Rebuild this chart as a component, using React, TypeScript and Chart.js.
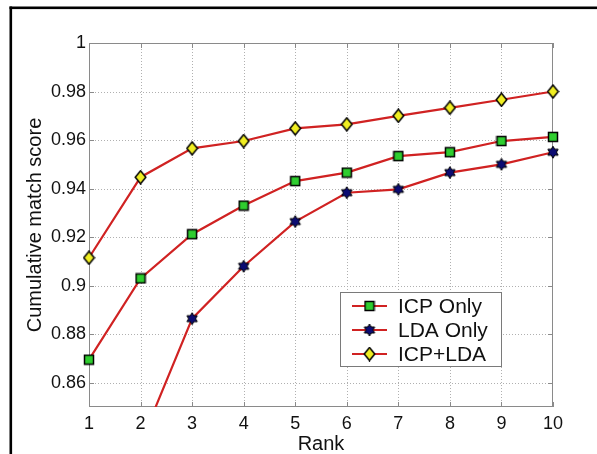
import React, { useEffect, useRef } from "react";
import { Chart, registerables } from "chart.js";

Chart.register(...registerables);

const ranks = ["1", "2", "3", "4", "5", "6", "7", "8", "9", "10"];
const icpOnly = [0.8695, 0.903, 0.9212, 0.933, 0.9431, 0.9466, 0.9534, 0.955, 0.9596, 0.9613];
const ldaOnly = [0.78, 0.835, 0.8864, 0.908, 0.9264, 0.9383, 0.9397, 0.9466, 0.95, 0.955];
const icpLda = [0.9115, 0.9447, 0.9566, 0.9596, 0.9648, 0.9665, 0.97, 0.9733, 0.9766, 0.98];
const yTicks = [0.86, 0.88, 0.9, 0.92, 0.94, 0.96, 0.98, 1];
const seriesNames = ["ICP Only", "LDA Only", "ICP+LDA"];

const FONT = "'Liberation Sans', Arial, Helvetica, sans-serif";
const LINE_RED = "#d02222";

function makeCanvas(w: number, h: number) {
  const c = document.createElement("canvas");
  c.width = w;
  c.height = h;
  return c;
}

function squareMarker() {
  const c = makeCanvas(12, 12);
  const g = c.getContext("2d")!;
  g.fillStyle = "#2fce2f";
  g.strokeStyle = "#000";
  g.lineWidth = 1.5;
  g.fillRect(1.5, 1.5, 9, 9);
  g.strokeRect(1.5, 1.5, 9, 9);
  return c;
}

function diamondMarker() {
  const c = makeCanvas(13, 15);
  const g = c.getContext("2d")!;
  g.beginPath();
  g.moveTo(6.5, 1);
  g.lineTo(11.8, 7.5);
  g.lineTo(6.5, 14);
  g.lineTo(1.2, 7.5);
  g.closePath();
  g.fillStyle = "#f0ee22";
  g.fill();
  g.strokeStyle = "#000";
  g.lineWidth = 1.5;
  g.stroke();
  return c;
}

function hexagramMarker() {
  const c = makeCanvas(14, 14);
  const g = c.getContext("2d")!;
  const cx = 7, cy = 7, R = 6, r = R / Math.sqrt(3);
  g.beginPath();
  for (let k = 0; k < 12; k++) {
    const a = (-90 + k * 30) * Math.PI / 180;
    const rad = k % 2 === 0 ? R : r;
    const x = cx + rad * Math.cos(a);
    const y = cy + rad * Math.sin(a);
    if (k === 0) g.moveTo(x, y); else g.lineTo(x, y);
  }
  g.closePath();
  g.fillStyle = "#0c0c72";
  g.fill();
  g.strokeStyle = "#000";
  g.lineWidth = 1;
  g.stroke();
  return c;
}

export default function App() {
  const ref = useRef<HTMLCanvasElement>(null);

  useEffect(() => {
    document.body.style.margin = "0";
    const canvas = ref.current!;
    const markers = [squareMarker(), hexagramMarker(), diamondMarker()];

    const framePlugin = {
      id: "frame",
      beforeDraw(chart: any) {
        const ctx = chart.ctx;
        ctx.save();
        ctx.fillStyle = "#fff";
        ctx.fillRect(0, 0, chart.width, chart.height);
        ctx.fillStyle = "#000";
        ctx.fillRect(9.5, 6.5, chart.width, 2.6);
        ctx.fillRect(9.5, 6.5, 2.6, chart.height);
        ctx.restore();
      },
      beforeDatasetsDraw(chart: any) {
        const { ctx, chartArea: a } = chart;
        const xs = chart.scales.x;
        const ys = chart.scales.y;
        ctx.save();
        // dotted grid
        ctx.strokeStyle = "#b0b0b0";
        ctx.lineWidth = 1;
        ctx.setLineDash([1, 2]);
        ctx.beginPath();
        for (let i = 1; i < ranks.length - 1; i++) {
          const px = Math.round(xs.getPixelForValue(i)) + 0.5;
          ctx.moveTo(px, a.top);
          ctx.lineTo(px, a.bottom);
        }
        for (const v of yTicks) {
          const py = Math.round(ys.getPixelForValue(v)) + 0.5;
          ctx.moveTo(a.left, py);
          ctx.lineTo(a.right, py);
        }
        ctx.stroke();
        ctx.setLineDash([]);
        // box
        ctx.strokeStyle = "#8a8a8a";
        ctx.strokeRect(a.left + 0.5, a.top + 0.5, a.right - a.left - 1, a.bottom - a.top - 1);
        // inward ticks
        ctx.beginPath();
        for (let i = 0; i < ranks.length; i++) {
          const px = Math.round(xs.getPixelForValue(i)) + 0.5;
          ctx.moveTo(px, a.bottom);
          ctx.lineTo(px, a.bottom - 5);
          ctx.moveTo(px, a.top);
          ctx.lineTo(px, a.top + 5);
        }
        for (const v of yTicks) {
          const py = Math.round(ys.getPixelForValue(v)) + 0.5;
          ctx.moveTo(a.left, py);
          ctx.lineTo(a.left + 5, py);
          ctx.moveTo(a.right, py);
          ctx.lineTo(a.right - 5, py);
        }
        ctx.stroke();
        ctx.restore();
      },
      afterDatasetsDraw(chart: any) {
        const ctx = chart.ctx;
        ctx.save();
        const bx = 340, by = 292, bw = 161, bh = 74;
        ctx.fillStyle = "#fff";
        ctx.fillRect(bx, by, bw, bh);
        ctx.strokeStyle = "#7a7a7a";
        ctx.lineWidth = 1;
        ctx.strokeRect(bx + 0.5, by + 0.5, bw, bh);
        ctx.font = `21px ${FONT}`;
        ctx.textBaseline = "middle";
        ctx.textAlign = "left";
        for (let i = 0; i < seriesNames.length; i++) {
          const y = 306 + i * 24;
          ctx.strokeStyle = LINE_RED;
          ctx.lineWidth = 2;
          ctx.beginPath();
          ctx.moveTo(352, y);
          ctx.lineTo(387, y);
          ctx.stroke();
          const m = markers[i];
          ctx.drawImage(m, 369.5 - m.width / 2, y - m.height / 2);
          ctx.fillStyle = "#111";
          ctx.fillText(seriesNames[i], 398, y + 1);
        }
        ctx.restore();
      },
    };

    const mk = (label: string, data: number[], i: number) => ({
      label,
      data,
      borderColor: LINE_RED,
      backgroundColor: LINE_RED,
      borderWidth: 2.2,
      pointStyle: markers[i],
      pointRadius: 5,
      tension: 0,
    });

    const chart = new Chart(canvas, {
      type: "line",
      data: {
        labels: ranks,
        datasets: [mk(seriesNames[0], icpOnly, 0), mk(seriesNames[1], ldaOnly, 1), mk(seriesNames[2], icpLda, 2)],
      },
      options: {
        responsive: false,
        animation: false,
        events: [],
        layout: { padding: { top: 43, right: 44, left: 0, bottom: 0 } },
        plugins: { legend: { display: false }, tooltip: { enabled: false }, title: { display: false } },
        scales: {
          x: {
            type: "category",
            offset: false,
            grid: { display: false, drawTicks: false },
            border: { display: false },
            ticks: { color: "#111", font: { family: FONT, size: 18 }, padding: 6, maxRotation: 0, autoSkip: false },
            title: { display: true, text: "Rank", color: "#111", font: { family: FONT, size: 20 }, padding: { top: 0, bottom: -2 } },
            afterFit: (s: any) => { s.height = 47; },
          },
          y: {
            min: 0.85,
            max: 1,
            grid: { display: false, drawTicks: false },
            border: { display: false },
            ticks: {
              color: "#111",
              font: { family: FONT, size: 18 },
              padding: 3,
              callback: (v: any) => String(Number(v)),
            },
            afterBuildTicks: (s: any) => { s.ticks = yTicks.map((v) => ({ value: v })); },
            title: { display: true, text: "Cumulative match score", color: "#111", font: { family: FONT, size: 20 }, padding: { top: 23, bottom: 0 } },
            afterFit: (s: any) => { s.width = 89; },
          },
        },
      } as any,
      plugins: [framePlugin],
    });
    return () => chart.destroy();
  }, []);

  return (
    <div style={{ position: "absolute", left: 0, top: 0, width: 597, height: 454 }}>
      <canvas ref={ref} width={597} height={454} style={{ width: 597, height: 454, display: "block" }} />
    </div>
  );
}
